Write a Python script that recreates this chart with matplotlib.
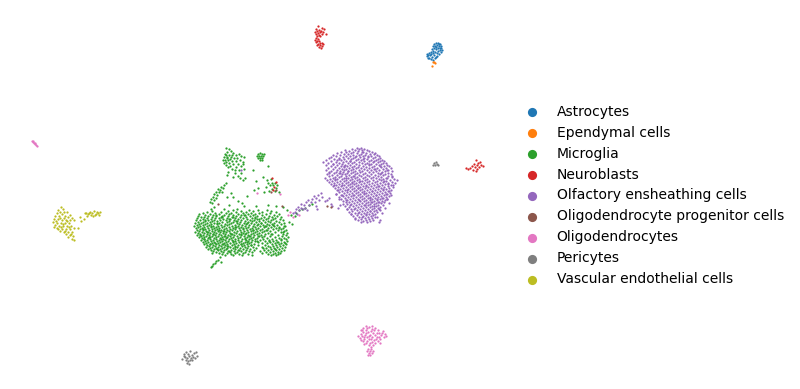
import numpy as np
import matplotlib
matplotlib.use("Agg")
import matplotlib.pyplot as plt

# coordinates, in image pixels
cell_types = ["Astrocytes", "Ependymal cells", "Microglia", "Neuroblasts", "Olfactory ensheathing cells",
              "Oligodendrocyte progenitor cells", "Oligodendrocytes", "Pericytes", "Vascular endothelial cells"]
colors = ["#1f77b4", "#ff7f0e", "#2ca02c", "#d62728", "#9467bd", "#8c564b", "#e377c2", "#7f7f7f", "#bcbd22"]

astro = [(436,43),(438,43),(434,44),(440,44),(437,45),(433,46),(435,46),(439,46),(441,46),(436,47),(438,48),(441,48),
         (434,48),(432,49),(436,49),(440,50),(433,51),(438,51),(431,52),(435,52),(441,52),(429,53),(433,53),(437,53),
         (427,54),(431,54),(439,54),(428,55),(430,55),(434,55),(437,56),(427,56),(432,57),(429,58),(435,58),(431,59),
         (433,60),(428,58),(436,57),(440,48),(442,50),(439,44)]
epend = [(433,62),(435,63),(434,62),(432,66)]
neuro = [(318,26),(322,28),(316,29),(319,30),(324,29),(317,31),(321,31),(315,32),(320,32),(323,32),(318,33),(316,34),
         (322,34),(319,35),(326,34),(317,36),(320,36),(316,38),(318,39),(315,40),(317,41),(319,41),(316,42),(320,43),
         (322,43),(318,44),(323,44),(317,45),(320,45),(322,46),(319,47),(321,48),(476,160),(480,162),(478,163),(474,164),
         (477,165),(481,165),(483,166),(472,166),(475,167),(479,167),(466,168),(470,168),(477,169),(473,170),(476,171),(468,169)]
pink_streak = [(32,141),(33,142),(34,143),(35,144),(36,145),(37,146),(33,141),(35,143)]
oligo = [(366,326),(372,326),(363,328),(369,327),(375,328),(361,330),(366,330),(371,331),(378,330),(383,331),(363,332),
         (368,332),(373,333),(379,333),(385,334),(361,334),(365,335),(370,335),(375,335),(381,335),(362,336),(367,337),
         (372,337),(377,337),(384,337),(360,338),(364,339),(369,339),(374,340),(380,339),(363,341),(367,341),(372,342),
         (378,341),(366,343),(370,343),(375,343),(364,344),(369,345),(373,345),(368,349),(371,349),(367,351),(370,351),
         (373,351),(369,353),(372,353),(368,355),(370,355),(371,347),(380,343),(358,336),(386,336),(362,330),(367,328),
         (374,330),(377,333),(382,333),(364,337),(369,336),(376,339),(361,340),(371,339),(366,333),(379,337),(372,329)]
peri = [(182,359),(184,356),(186,352),(188,354),(190,351),(192,355),(194,353),(196,352),(197,356),(185,357),(187,358),
        (189,356),(191,358),(193,357),(195,358),(186,360),(188,361),(190,360),(192,360),(187,363),(189,364),(184,354),
        (434,163),(436,162),(437,164),(435,165),(438,165),(433,165)]
vasc = [(61,207),(63,209),(58,210),(60,212),(64,212),(67,212),(57,213),(62,214),(70,215),(55,216),(59,216),(65,216),
        (68,217),(72,218),(54,219),(58,219),(62,220),(66,220),(70,220),(74,220),(53,222),(57,223),(61,223),(65,223),
        (69,223),(55,225),(59,226),(63,226),(67,226),(71,226),(54,227),(58,229),(62,229),(66,229),(70,229),(74,228),
        (60,231),(64,232),(68,232),(72,232),(66,234),(70,235),(73,236),(68,237),(72,239),(74,240),(80,217),(81,221),
        (84,219),(86,213),(88,214),(90,212),(92,213),(94,211),(96,214),(98,213),(100,212),(87,216),(91,215),(95,215),(99,215),
        (78,228),(56,221),(60,218),(64,218),(63,224),(67,221),(57,228),(61,227),(65,231),(69,227),(71,234),(85,213),(93,216),(97,212),(89,213)]

# microglia, rows of the big lower blob: y -> x positions
mic_rows = {
    210:[233,249,258,267],
    211:[212,228,241,253,271],
    212:[207,221,236,246,262,276],
    213:[203,215,226,231,243,251,259,270],
    214:[199,210,219,229,238,248,255,266,279],
    215:[205,213,224,233,241,244,253,262,274],
    216:[198,208,216,222,228,236,250,257,269,277],
    217:[201,204,212,221,232,240,246,255,264,272,281],
    218:[197,207,215,219,227,235,243,252,261,268,275],
    219:[203,211,223,230,238,247,257,266,273,280],
    220:[196,200,208,214,220,226,234,241,250,254,263,271,283],
    221:[205,212,217,229,236,245,252,259,268,276],
    222:[198,203,210,222,227,233,240,248,256,265,270,279],
    223:[195,201,207,214,219,231,237,244,251,261,274,284],
    224:[199,205,211,217,225,229,239,246,254,258,267,272,281],
    225:[197,203,209,221,227,235,242,249,257,263,269,277],
    226:[194,200,207,213,218,224,232,238,245,253,260,266,274,285],
    227:[198,204,211,216,222,229,236,241,248,255,264,271,279],
    228:[196,202,208,214,219,226,233,239,246,252,258,268,276,283],
    229:[200,205,212,217,224,230,235,243,250,256,262,273,281],
    230:[197,203,209,215,221,227,232,240,247,253,260,266,278,286],
    231:[199,206,212,218,224,229,237,244,251,257,264,270,284],
    232:[195,202,208,214,220,226,234,241,248,255,262,275,281],
    233:[198,204,210,216,223,230,236,243,246,253,259,268,287],
    234:[200,207,213,219,225,232,239,245,251,257,265,272,283],
    235:[197,203,209,215,221,228,234,241,248,254,261,278,286],
    236:[201,206,212,218,224,230,237,244,250,258,264,270,282],
    237:[199,204,210,216,222,227,233,240,247,253,262,275,288],
    238:[202,208,214,220,226,231,238,245,251,257,267,279,284],
    239:[204,210,216,223,229,235,242,249,255,263,272,286],
    240:[201,207,213,219,225,232,238,246,252,260,269,276,281],
    241:[205,211,217,222,228,235,241,248,255,265,273,287],
    242:[203,208,214,220,226,233,239,245,251,258,270,278,284],
    243:[206,212,218,224,230,236,243,249,262,267,275,281],
    244:[204,210,216,222,227,234,241,247,254,272,279,286],
    245:[207,213,219,225,232,238,244,251,258,265,276,283],
    246:[209,215,221,228,235,242,248,268,273,280],
    247:[206,212,218,224,230,237,245,253,262,270,277,285],
    248:[210,216,222,227,233,240,247,256,266,274,282],
    249:[208,214,220,226,235,243,250,271,279],
    250:[211,218,224,231,238,246,254,264,268,276,284],
    251:[213,221,228,234,241,249,260,273,281],
    252:[216,223,230,237,245,252,266,270,278],
    253:[212,219,227,235,243,262,275,280],
    254:[222,231,239,248,268,273,278],
    255:[225,233,242,252,271,276],
}
# cells in the blob that sit off the rows above
mic_extra = [(204.5,219.5),(210.5,225.5),(216.5,222.5),(222.5,230.5),(228.5,218.5),(234.5,226.5),(240.5,233.5),(246.5,222.5),
             (252.5,229.5),(258.5,235.5),(264.5,225.5),(270.5,233.5),(276.5,241.5),(282.5,231.5),(208.5,236.5),(214.5,242.5),
             (220.5,238.5),(226.5,245.5),(232.5,240.5),(238.5,249.5),(244.5,238.5),(250.5,244.5),(256.5,240.5),(262.5,247.5),
             (268.5,240.5),(274.5,248.5),(280.5,238.5),(202.5,228.5),(206.5,231.5),(212.5,233.5),(218.5,229.5),(224.5,235.5),
             (230.5,233.5),(236.5,220.5),(242.5,227.5),(248.5,235.5),(254.5,217.5),(260.5,222.5),(266.5,229.5),(272.5,224.5),
             (278.5,227.5),(284.5,242.5),(216.5,248.5),(222.5,243.5),(228.5,250.5),(234.5,246.5),(240.5,243.5),(246.5,241.5),
             (199.5,234.5),(203.5,238.5),(209.5,243.5),(215.5,214.5),(221.5,216.5),(232.5,216.5),(244.5,214.5),(258.5,218.5)]
# the smaller microglia groups above and below the blob
mic_other = [(226,148),(229,149),(231,151),(227,152),(233,153),(225,154),(229,155),(236,155),(239,154),(224,157),(227,157),
             (231,157),(234,158),(241,156),(244,157),(225,160),(228,160),(232,161),(236,161),(240,160),(226,162),(229,163),
             (233,164),(238,164),(243,162),(224,163),(230,166),(236,167),(241,166),(232,169),(239,170),(244,169),(228,172),
             (235,173),(241,173),(233,177),(238,176),(245,178),(243,180),(240,178),(227,175),(227,158),(223,160),(230,159),
             (226,165),(228,167),(235,170),(243,164),(226,155),(232,155),(237,158),
             (258,154),(260,153),(262,154),(264,154),(257,156),(259,156),(261,156),(263,156),(258,158),(260,158),(262,158),(260,160),(262,160),
             (268,166),(253,170),(263,177),(267,180),(271,179),(268,183),(272,183),(275,183),(270,185),(273,185),(277,185),
             (276,188),(272,189),(275,191),(269,191),(264,192),(256,181),(254,190),(258,188),(279,192),(266,187),(247,196),
             (226,183),(224,185),(221,187),(223,188),(218,189),(220,190),(216,192),(219,192),(222,192),(214,194),(217,195),
             (213,197),(216,198),(211,199),(214,200),(210,202),(212,203),(231,193),(233,197),(227,197),(238,201),(242,203),
             (214,207),(211,209),(229,205),(224,209),(237,209),(244,206),(256,206),(268,205),(276,206),(283,207),(287,210),
             (291,215),(295,216),(289,222),(292,224),(284,226),(299,210),(302,209),(296,213),(305,208),(309,205),(312,204),
             (218,260),(216,261),(215,263),(213,264),(212,266),(211,267),(220,257),(221,262)]
# purple cloud, rows: y -> x positions
oec_rows = {
    148:[357,361],
    149:[352,359,364],
    150:[345,355,362,367],
    151:[349,358,369],
    152:[341,346,353,363,372],
    153:[337,351,357,366,375],
    154:[344,348,361,370,374],
    155:[333,340,353,359,365,377],
    156:[336,346,350,363,371,379],
    157:[331,343,355,360,368,375],
    158:[329,339,348,353,364,373,380],
    159:[334,344,351,358,367,378],
    160:[326,337,341,356,361,371,376,382],
    161:[331,346,350,364,369,380,384],
    162:[323,336,343,354,359,373,378],
    163:[328,339,348,352,362,367,383,386],
    164:[333,342,356,365,371,376,381],
    165:[326,337,345,350,359,369,379,387],
    166:[331,341,347,354,363,374,384,389],
    167:[335,344,352,358,366,372,381],
    168:[328,339,349,356,361,369,377,386,391],
    169:[333,342,346,353,364,374,383],
    170:[326,337,344,351,359,367,371,379,388],
    171:[331,340,348,355,362,376,385,392],
    172:[329,336,343,353,360,369,373,382],
    173:[334,339,347,351,357,365,378,388],
    174:[327,342,345,355,363,371,380,385,391],
    175:[332,337,349,359,367,375,383],
    176:[329,341,346,353,361,369,378,388],
    177:[335,339,351,357,365,373,381,392],
    178:[325,333,344,348,355,363,371,376,386],
    179:[330,337,342,352,359,367,379,383,394],
    180:[327,335,346,350,357,365,373,381,390,397],
    181:[332,340,344,354,362,369,377,386],
    182:[329,337,348,352,359,367,375,383,392],
    183:[334,342,346,356,364,372,380,388,395],
    184:[331,339,350,354,361,369,377,385],
    185:[336,344,348,358,366,374,382,391],
    186:[333,341,352,356,363,371,379,388],
    187:[338,346,350,360,368,376,384,393],
    188:[335,343,354,358,365,373,381,389],
    189:[340,348,352,362,370,378,386],
    190:[337,345,356,360,367,375,383,391],
    191:[342,350,354,364,372,380,388],
    192:[339,347,358,362,369,377,385],
    193:[344,352,356,366,374,382,390],
    194:[336,349,360,364,371,379,387],
    195:[341,346,354,358,368,376,384],
    196:[343,351,362,366,373,381,389],
    197:[339,348,356,360,370,378,386],
    198:[329,345,353,364,368,375,383],
    199:[341,350,358,362,372,380,387],
    200:[327,347,355,366,370,377,385],
    201:[343,352,360,364,374,382],
    202:[346,349,357,368,372,379,384],
    203:[354,362,366,376,381],
    204:[331,347,351,359,370,374],
    205:[356,364,368,378,383],
    206:[345,353,361,372,376],
    207:[349,358,366,370,380],
    208:[355,363,374,378],
    209:[347,351,360,368,372],
    210:[357,365,376,380],
    211:[352,362,370,374],
    212:[349,359,367,377],
    213:[355,364,372],
    214:[351,361,369,375],
    215:[357,366,373],
    216:[353,363,371],
    217:[359,368,375],
    218:[355,365,372],
    219:[361,369],
    220:[358,366,373],
    221:[363,370],
    222:[361,367,379],
}
# off-row purple cells, mostly along the right and lower edges
oec_extra = [(388.5,190.5),(390.5,194.5),(392.5,184.5),(386.5,198.5),(388.5,202.5),(384.5,207.5),(381.5,212.5),(378.5,208.5),
             (376.5,216.5),(379.5,219.5),(385.5,193.5),(381.5,197.5),(377.5,201.5),(373.5,205.5),(369.5,210.5),(365.5,213.5),
             (361.5,216.5),(357.5,212.5),(353.5,208.5),(349.5,204.5),(345.5,199.5),(341.5,194.5),(337.5,189.5),(333.5,184.5),
             (335.5,193.5),(338.5,198.5),(342.5,203.5),(346.5,208.5),(350.5,213.5),(354.5,218.5),(343.5,165.5),(349.5,160.5),
             (355.5,155.5),(362.5,158.5),(368.5,163.5),(374.5,168.5),(380.5,172.5),(386.5,177.5),(339.5,172.5),(345.5,177.5),
             (351.5,182.5),(357.5,187.5),(363.5,192.5),(369.5,197.5),(375.5,194.5),(347.5,170.5),(353.5,175.5),(359.5,180.5),
             (365.5,185.5),(371.5,190.5),(377.5,185.5),(383.5,180.5),(379.5,165.5),(373.5,160.5),(367.5,155.5),(361.5,151.5),
             (338.5,158.5),(332.5,163.5),(328.5,172.5),(334.5,178.5),(341.5,184.5),(346.5,189.5),(352.5,194.5),(358.5,199.5),
             (364.5,204.5),(370.5,201.5),(376.5,198.5),(382.5,188.5),(387.5,183.5),(391.5,175.5),(386.5,169.5)]
oec_bridge = [(321,193),(318,195),(314,196),(322,197),(316,198),(312,199),(308,200),(319,200),(306,202),(311,202),(315,202),
              (301,204),(304,205),(309,205),(316,206),(298,207),(301,208),(305,208),(296,209),(299,210),(293,213),(295,212),
              (297,214),(303,209),(307,210),(317,209),(241,170),(325,201),(332,206),(338,208),(340,205)]
opc_spots = [(327,206),(331,207),(282,206),(271,192),(218,204),(276,190)]
olig_spots = [(290,212),(288,215),(293,217),(299,215),(257,193),(280,194)]
neuro_spots = [(272,178),(276,182),(274,187),(273,190)]

def rows_to_points(rows):
    return [(x, y) for y, xs in rows.items() for x in xs]

points = [astro, epend, rows_to_points(mic_rows) + mic_extra + mic_other, neuro + neuro_spots,
          rows_to_points(oec_rows) + oec_extra + oec_bridge, opc_spots, oligo + pink_streak + olig_spots, peri, vasc]

fig = plt.figure(figsize=(8, 3.89), dpi=100)
ax = fig.add_axes([0, 0, 1, 1])
for name, col, pts in zip(cell_types, colors, points):
    pts = np.array(pts, dtype=float)
    ax.scatter(pts[:, 0], pts[:, 1], s=2.6, color=col, linewidths=0, label=name)

ax.set_xlim(0, 800)
ax.set_ylim(389, 0)
ax.axis("off")
ax.legend(loc="center left", bbox_to_anchor=(0.632, 0.4975), frameon=False, fontsize=10, markerscale=4.1,
          handletextpad=0.77, labelspacing=0.5)
fig.savefig("out.png", dpi=100)
